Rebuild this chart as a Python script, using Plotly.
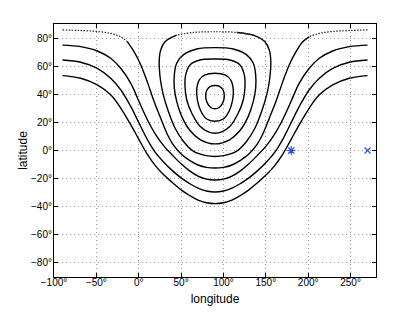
import plotly.graph_objects as go

# ---- data (longitude, latitude in degrees) ----
# open curves (span -90..270)
A_lon = [-90, -70, -48.9, -33, -21.3, -13.5, -5.6, 2.3, 10, 18, 25.9, 33, 40.8, 50, 60, 70, 80, 90,
         100, 110, 120, 130, 139.2, 147, 154.1, 162, 170, 177.7, 185.6, 193.5, 201.3, 213, 228.9, 250, 270]
A_lat = [85.8, 85.4, 84.7, 83.3, 80.9, 77.4, 70.3, 61, 49, 35, 23, 12.5, 4, -2.5, -7, -10.3, -12, -12.5,
         -12, -10.3, -7, -2.5, 4, 12.5, 23, 35, 49, 61, 70.3, 77.4, 80.9, 83.3, 84.7, 85.4, 85.8]

B_lon = [-90, -68.5, -48.9, -33.1, -21.3, -9.5, 0.3, 10.2, 20, 29.8, 40, 50, 60, 70, 80, 90,
         100, 110, 120, 130, 140, 150.2, 160, 169.8, 179.7, 189.5, 201.3, 213.1, 228.9, 248.5, 270]
B_lat = [75, 73.9, 70.8, 65.6, 58.5, 47.9, 34.9, 21.9, 11.3, 3.1, -3.5, -9.5, -14.5, -18.2, -20.4, -21,
         -20.4, -18.2, -14.5, -9.5, -3.5, 3.1, 11.3, 21.9, 34.9, 47.9, 58.5, 65.6, 70.8, 73.9, 75]

C_lon = [-90, -68.5, -48.9, -33.1, -21.3, -9.5, 0.3, 10.2, 20, 29.8, 40, 50, 60, 70, 80, 90,
         100, 110, 120, 130, 140, 150.2, 160, 169.8, 179.7, 189.5, 201.3, 213.1, 228.9, 248.5, 270]
C_lat = [64.4, 62.8, 58.5, 51.4, 43.2, 31.4, 19.6, 7.8, -1.7, -8.5, -14.5, -19.5, -23.5, -26.8, -28.8, -29.5,
         -28.8, -26.8, -23.5, -19.5, -14.5, -8.5, -1.7, 7.8, 19.6, 31.4, 43.2, 51.4, 58.5, 62.8, 64.4]

D_lon = [-90, -68.5, -48.9, -33.1, -21.3, -9.5, 0.3, 10.2, 20, 29.8, 40, 50, 60, 70, 80, 90,
         100, 110, 120, 130, 140, 150.2, 160, 169.8, 179.7, 189.5, 201.3, 213.1, 228.9, 248.5, 270]
D_lat = [53.3, 51.4, 46.7, 39.6, 30.2, 18.4, 7.8, -2.8, -11.1, -17.5, -23, -28, -32, -35.3, -37.2, -37.8,
         -37.2, -35.3, -32, -28, -23, -17.5, -11.1, -2.8, 7.8, 18.4, 30.2, 39.6, 46.7, 51.4, 53.3]

# closed curves around (90°, ~38°)
E5_lon = [90, 64.4, 44.8, 31, 25.9, 24.3, 24.3, 25.9, 29, 35, 42.8, 52.6, 64.4, 78.2, 90,
          101.8, 115.6, 127.4, 137.2, 145, 151, 154.1, 155.7, 155.7, 154.1, 149, 135.2, 115.6, 90]
E5_lat = [84.5, 84, 82.1, 77.4, 71.5, 65.6, 58.5, 49.1, 39.6, 27.8, 16, 6.6, -0.5, -3.5, -4.3,
          -3.5, -0.5, 6.6, 16, 27.8, 39.6, 49.1, 58.5, 65.6, 71.5, 77.4, 82.1, 84, 84.5]

E4_lon = [90, 68.4, 52.6, 44.8, 42, 42, 44.8, 50.7, 60.5, 72.3, 90,
          107.7, 119.5, 129.3, 135.2, 138, 138, 135.2, 127.4, 111.6, 90]
E4_lat = [73.2, 72.2, 68, 62.1, 53.8, 44.4, 34.9, 24.3, 14.2, 7.8, 4.7,
          7.8, 14.2, 24.3, 34.9, 44.4, 53.8, 62.1, 68, 72.2, 73.2]

E3_lon = [90, 72.3, 60.5, 55.4, 54.6, 56.6, 62.5, 72.3, 82.1, 90,
          97.9, 107.7, 117.5, 123.4, 125.4, 124.6, 119.5, 107.7, 90]
E3_lat = [65.1, 64.4, 60.9, 53.8, 45.5, 36.1, 26.7, 17.2, 13.2, 12.3,
          13.2, 17.2, 26.7, 36.1, 45.5, 53.8, 60.9, 64.4, 65.1]

E2_lon = [90, 78.2, 71.5, 68.4, 69.2, 73.1, 80.2, 90, 99.8, 106.9, 110.8, 111.6, 108.5, 101.8, 90]
E2_lat = [55, 53.8, 50.3, 43.2, 36.1, 28.3, 22.4, 20.8, 22.4, 28.3, 36.1, 43.2, 50.3, 53.8, 55]

E1_lon = [90, 84.1, 80.2, 79, 81, 85.3, 90, 94.7, 99, 101, 99.8, 95.9, 90]
E1_lat = [46.2, 45.5, 42.7, 38.5, 33.7, 30.4, 29.7, 30.4, 33.7, 38.5, 42.7, 45.5, 46.2]

# the two marked points
star_lon = [180]
star_lat = [0]
cross_lon = [270]
cross_lat = [0]

x_ticks = [-100, -50, 0, 50, 100, 150, 200, 250]
x_labels = ["−100°", "−50°", "0°", "50°", "100°", "150°", "200°", "250°"]
y_ticks = [-80, -60, -40, -20, 0, 20, 40, 60, 80]
y_labels = ["−80°", "−60°", "−40°", "−20°", "0°", "20°", "40°", "60°", "80°"]

# ---- figure ----
fig = go.Figure()
SOLID = dict(color="black", width=1.4)
DOT = dict(color="#222222", width=1.2, dash="1.5px,1.5px")


def add_split(lon, lat, thr):
    """Draw points whose latitude is >= thr dotted, the rest solid."""
    n = len(lon)
    flags = [la >= thr for la in lat]
    start = 0
    for i in range(1, n + 1):
        if i == n or flags[i] != flags[start]:
            if flags[start]:
                a, b = max(start - 1, 0), min(i + 1, n)
            else:
                a, b = start, min(i + 1, n)
            fig.add_trace(go.Scatter(x=lon[a:b], y=lat[a:b], mode="lines",
                                     line=DOT if flags[start] else SOLID,
                                     line_shape="spline", hoverinfo="skip", showlegend=False))
            start = i


add_split(A_lon, A_lat, 80.5)
add_split(E5_lon, E5_lat, 83.5)
for lo, la in [(B_lon, B_lat), (C_lon, C_lat), (D_lon, D_lat),
               (E4_lon, E4_lat), (E3_lon, E3_lat), (E2_lon, E2_lat), (E1_lon, E1_lat)]:
    fig.add_trace(go.Scatter(x=lo, y=la, mode="lines", line=SOLID, line_shape="spline",
                             hoverinfo="skip", showlegend=False))

fig.add_trace(go.Scatter(x=star_lon, y=star_lat, mode="markers",
                         marker=dict(symbol="asterisk-open", size=7, color="#2a4dff",
                                     line=dict(color="#2a4dff", width=1.2)),
                         showlegend=False))
fig.add_trace(go.Scatter(x=cross_lon, y=cross_lat, mode="markers",
                         marker=dict(symbol="x-thin-open", size=6, color="#2a4dff",
                                     line=dict(color="#2a4dff", width=1.2)),
                         showlegend=False))

FONT = "Liberation Sans, Arial, sans-serif"
axis_common = dict(showline=True, linecolor="black", linewidth=1, mirror="ticks",
                   ticks="inside", ticklen=4, tickcolor="black", tickwidth=1,
                   showgrid=True, gridcolor="#9a9a9a", gridwidth=1, griddash="1px,3px",
                   zeroline=False, automargin=False,
                   tickfont=dict(family=FONT, size=10, color="black"))

fig.update_xaxes(range=[-100, 280], tickvals=x_ticks, ticktext=x_labels, **axis_common,
                 ticklabelstandoff=-4,
                 title=dict(text="longitude", standoff=7,
                            font=dict(family=FONT, size=12, color="black")))
fig.update_yaxes(range=[-90, 90], tickvals=y_ticks, ticktext=y_labels, **axis_common,
                 ticklabelstandoff=-1,
                 title=dict(text="latitude", standoff=0,
                            font=dict(family=FONT, size=12, color="black")))

# the page adds an 8 px body margin, so the figure is offset by 8 px
fig.update_layout(width=407, height=304, margin=dict(l=46, r=39, t=16, b=35, autoexpand=False),
                  paper_bgcolor="white", plot_bgcolor="white", showlegend=False)

fig.write_html("out.html")
